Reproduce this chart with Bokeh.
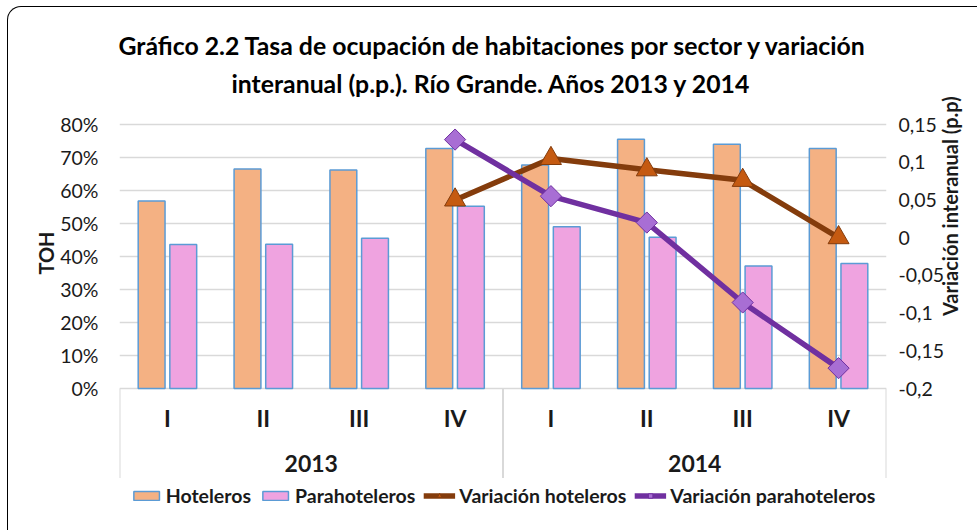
import math
from bokeh.plotting import figure
from bokeh.layouts import column
from bokeh.models import (ColumnDataSource, FactorRange, Range1d, LinearAxis, FixedTicker,
                          NumeralTickFormatter, CustomJSTickFormatter, Legend, LegendItem, Title)
from bokeh.transform import dodge
from bokeh.core.properties import value
from bokeh.embed import file_html
from bokeh.resources import INLINE

nan = float("nan")

# ---------------- data ----------------
years = ["2013", "2014"]
quarters = ["I", "II", "III", "IV"]
hoteleros = [0.568, 0.665, 0.662, 0.727, 0.677, 0.755, 0.740, 0.727]
parahoteleros = [0.436, 0.437, 0.455, 0.552, 0.490, 0.458, 0.371, 0.379]
var_hoteleros = [nan, nan, nan, 0.050, 0.105, 0.090, 0.076, 0.000]
var_parahoteleros = [nan, nan, nan, 0.130, 0.055, 0.020, -0.086, -0.173]
left_ticks = [0.0, 0.1, 0.2, 0.3, 0.4, 0.5, 0.6, 0.7, 0.8]
right_ticks = [-0.2, -0.15, -0.1, -0.05, 0.0, 0.05, 0.1, 0.15]

title_1 = "Gráfico 2.2  Tasa de ocupación de habitaciones por sector y variación"
title_2 = "interanual (p.p.). Río Grande. Años 2013 y 2014"
y_title = "TOH"
y2_title = "Variación interanual (p.p)"

# ---------------- styling ----------------
FONT = "Lato"
C_HOT = "#F4B183"
C_PARA = "#EFA3E0"
C_EDGE = "#5B9BD5"
C_VH_LINE = "#843C0C"
C_VH_MARK = "#C55A11"
C_VP_LINE = "#7030A0"
C_VP_MARK = "#A86ED4"
C_GRID = "#D9D9D9"
C_TEXT = "#1A1A1A"

factors = [(y, q) for y in years for q in quarters]

# The frame reaches a little above the top gridline and down to the bottom of the
# figure; the category band and the legend live below zero inside the frame.
DATA_PX = 264.0     # pixel height of the 0-80% span
TOP_PX = 23.0       # blank band above the top gridline
EXT_PX = 142.0      # band below zero (category labels + legend)
l_lo, l_hi = left_ticks[0], left_ticks[-1]
r_lo, r_hi = right_ticks[0], right_ticks[-1]
frac = lambda px: px / DATA_PX
l_min = l_lo - (l_hi - l_lo) * frac(EXT_PX)
l_max = l_hi + (l_hi - l_lo) * frac(TOP_PX)
r_min = r_lo - (r_hi - r_lo) * frac(EXT_PX)
r_max = r_hi + (r_hi - r_lo) * frac(TOP_PX)
sep_lo = l_lo - (l_hi - l_lo) * frac(89.5)

p = figure(
    x_range=FactorRange(*factors, range_padding=0, group_padding=0, factor_padding=0),
    y_range=Range1d(l_min, l_max),
    width=969, height=523,
    output_backend="svg", toolbar_location=None,
    x_axis_location=None,
    min_border_left=111, min_border_right=80, min_border_top=94, min_border_bottom=0,
)
p.extra_y_ranges = {"var": Range1d(r_min, r_max)}
p.outline_line_color = None
p.xgrid.visible = False
p.background_fill_color = "white"
p.border_fill_alpha = 0

src = ColumnDataSource(dict(
    x=factors, hot=hoteleros, para=parahoteleros,
    vh=var_hoteleros, vp=var_parahoteleros,
    q=[q for _ in years for q in quarters],
))

# grid
p.ygrid.ticker = FixedTicker(ticks=left_ticks)
p.ygrid.grid_line_color = C_GRID
p.ygrid.grid_line_width = 1.5

# left axis
ya = p.yaxis[0]
ya.ticker = FixedTicker(ticks=left_ticks)
ya.formatter = NumeralTickFormatter(format="0%")
ya.bounds = (l_lo, l_hi)
ya.axis_line_color = None
ya.major_tick_line_color = None
ya.minor_tick_line_color = None
ya.major_label_standoff = 15
ya.major_label_text_font = FONT
ya.major_label_text_font_size = "19.5px"
ya.major_label_text_color = C_TEXT

# left axis title as a side title (positioned over the 0-80% span)
t_y = Title(text=y_title, align="right", offset=107 + TOP_PX, text_font=FONT, text_font_size="20px",
            text_font_style="bold", text_color=C_TEXT, standoff=0)
p.add_layout(t_y, "left")

# right axis
ra = LinearAxis(
    y_range_name="var",
    ticker=FixedTicker(ticks=right_ticks),
    formatter=CustomJSTickFormatter(code="""
        const v = Math.round(tick * 100) / 100;
        if (v === 0) { return "0"; }
        return String(v).replace(".", ",");
    """),
    bounds=(r_lo, r_hi),
)
ra.axis_line_color = None
ra.major_tick_line_color = None
ra.minor_tick_line_color = None
ra.major_label_standoff = 6
ra.major_label_text_font = FONT
ra.major_label_text_font_size = "19.5px"
ra.major_label_text_color = C_TEXT
ra.axis_label = y2_title
ra.axis_label_text_font = FONT
ra.axis_label_text_font_size = "20px"
ra.axis_label_text_font_style = "bold"
ra.axis_label_text_color = C_TEXT
ra.axis_label_standoff = 3
if "axis_label_orientation" in ra.properties():
    ra.axis_label_orientation = math.pi / 2
p.add_layout(ra, "right")

# bars
r_hot = p.vbar(x=dodge("x", -0.165, range=p.x_range), top="hot", width=0.28, source=src,
               fill_color=C_HOT, line_color=C_EDGE, line_width=1.5)
r_para = p.vbar(x=dodge("x", 0.165, range=p.x_range), top="para", width=0.28, source=src,
                fill_color=C_PARA, line_color=C_EDGE, line_width=1.5)

# lines
l_vh = p.line(x="x", y="vh", source=src, y_range_name="var",
              line_color=C_VH_LINE, line_width=5.5, line_join="round")
s_vh = p.scatter(x="x", y="vh", source=src, y_range_name="var", marker="triangle",
                 size=21, fill_color=C_VH_MARK, line_color=C_VH_LINE, line_width=1)
l_vp = p.line(x="x", y="vp", source=src, y_range_name="var",
              line_color=C_VP_LINE, line_width=5.5, line_join="round")
s_vp = p.scatter(x="x", y="vp", source=src, y_range_name="var", marker="square", angle=math.pi / 4,
                 size=15, fill_color=C_VP_MARK, line_color=C_VP_LINE, line_width=1)

# category axis band (drawn inside frame, below zero)
q_y = l_lo - (l_hi - l_lo) * frac(29.5)
y_y = l_lo - (l_hi - l_lo) * frac(74.5)
p.text(x="x", y=q_y, text="q", source=src, text_font=value(FONT), text_font_size="23px",
       text_font_style="bold", text_align="center", text_baseline="middle", text_color=C_TEXT)
p.text(x=years, y=[y_y] * len(years), text=years, text_font=value(FONT), text_font_size="23px",
       text_font_style="bold", text_align="center", text_baseline="middle", text_color=C_TEXT)
sep_x = [(years[0], quarters[0], -0.5), (years[1], quarters[0], -0.5), (years[-1], quarters[-1], 0.5)]
p.segment(x0=sep_x, y0=[l_lo] * 3, x1=sep_x, y1=[sep_lo] * 3, line_color=C_GRID, line_width=2)

# titles (two lines)
t2 = Title(text=title_2, align="left", offset=112, text_font=FONT, text_font_size="24.8px",
           text_font_style="bold", text_color="black", standoff=8)
p.add_layout(t2, "above")
p.title.text = title_1
p.title.align = "left"
p.title.offset = -1
p.title.text_font = FONT
p.title.text_font_size = "24.8px"
p.title.text_font_style = "bold"
p.title.text_color = "black"
p.title.standoff = 5

# legend (inside the frame, under the category band)
legend = Legend(items=[
    LegendItem(label="Hoteleros", renderers=[r_hot]),
    LegendItem(label="Parahoteleros", renderers=[r_para]),
    LegendItem(label="Variación hoteleros", renderers=[l_vh, s_vh]),
    LegendItem(label="Variación parahoteleros", renderers=[l_vp, s_vp]),
], orientation="horizontal", location="bottom_center",
    label_text_font=FONT, label_text_font_size="19.5px", label_text_font_style="bold",
    label_text_color=C_TEXT, glyph_width=32, glyph_height=11, spacing=8, label_standoff=4,
    padding=0, margin=23, border_line_color=None, background_fill_alpha=0)
p.add_layout(legend)

page = column(p, styles={
    "margin-left": "7px", "margin-top": "6px",
    "border-left": "1.5px solid #000", "border-top": "1.5px solid #000",
    "border-top-left-radius": "14px",
})

open("out.html", "w").write(file_html(page, INLINE))
